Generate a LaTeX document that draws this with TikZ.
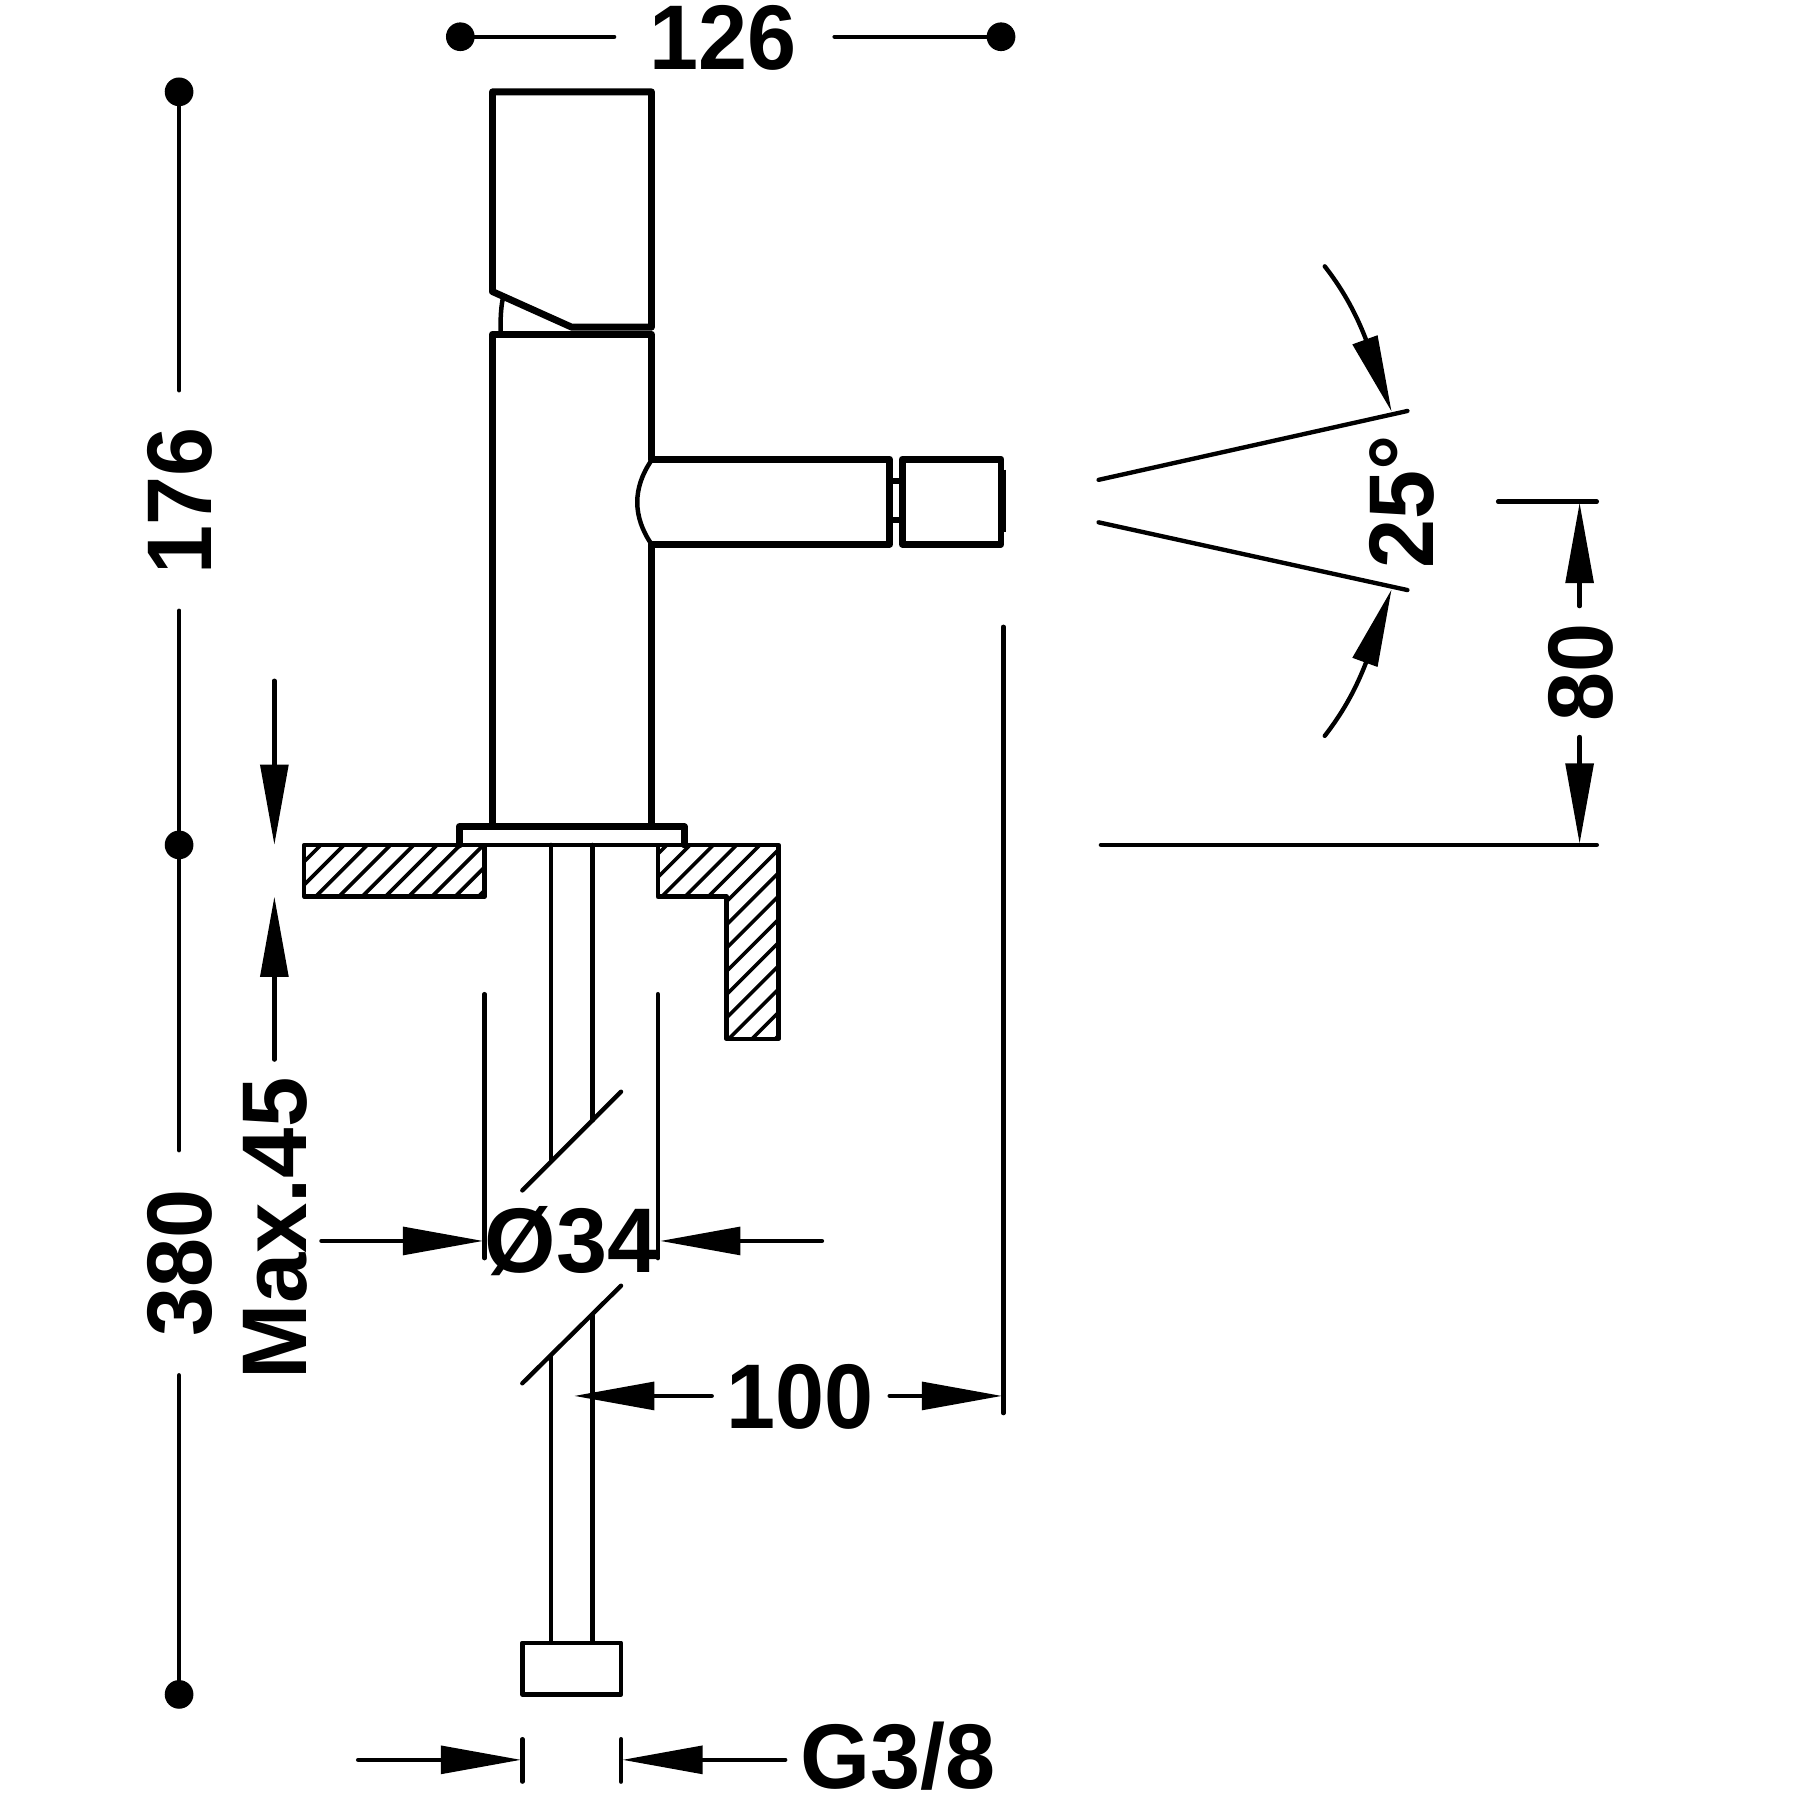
\documentclass[tikz,border=0pt]{standalone}
\usepackage{fontspec}
\setmainfont{Liberation Sans}
\usetikzlibrary{arrows.meta}
\newcommand{\lbl}[2][0.96]{\scalebox{#1}[1]{#2}}
\tikzset{
  bodyline/.style={line width=3pt,line join=round,line cap=round},
  outline/.style={line width=1.95pt,line join=round,line cap=round},
  thinline/.style={line width=1.9pt,line cap=round},
  hatchline/.style={line width=1.55pt},
  arr/.style={-{Triangle[length=35pt,width=12pt]},line width=1.9pt,line cap=round},
  dotmark/.style={circle,fill=black,inner sep=0pt,minimum size=12.5pt},
  lab/.style={font=\fontsize{40}{40}\selectfont\bfseries,inner sep=0pt},
  rlab/.style={lab,rotate=90},
  headfill/.style={fill=black,draw=none}
}
\begin{document}
\begin{tikzpicture}[x=0.5pt,y=-0.5pt]
\useasboundingbox (0,0) rectangle (1568,1568);
\fill[white] (0,0) rectangle (1568,1568);

% hatching
\begin{scope}
\clip (265,736) rectangle (422,781);
\foreach \k in {-3,...,8}{
  \pgfmathsetmacro{\c}{1056+20.25*\k}
  \draw[hatchline] (\c-700,700) -- (\c-800,800);
}
\end{scope}
\begin{scope}
\clip (573,736) -- (678,736) -- (678,905) -- (633,905) -- (633,781) -- (573,781) -- cycle;
\foreach \k in {-3,...,12}{
  \pgfmathsetmacro{\c}{1357.5+20.25*\k}
  \draw[hatchline] (\c-700,700) -- (\c-950,950);
}
\end{scope}
\draw[outline] (422,736) -- (265,736) -- (265,781) -- (422,781) -- cycle;
\draw[outline] (573,736) -- (678,736) -- (678,905) -- (633,905) -- (633,781) -- (573,781) -- cycle;

% mixer body
\draw[bodyline] (429,80) -- (567.5,80) -- (567.5,285) -- (498,285) -- (429,254) -- cycle;
\draw[outline] (438,260) .. controls (436,270) and (436,280) .. (436,290);
\draw[bodyline] (429,718) -- (429,291) -- (567.5,291) -- (567.5,400);
\draw[bodyline] (567.5,474) -- (567.5,718);
\draw[bodyline] (567.5,400) -- (775,400) -- (775,474) -- (567.5,474);
\draw[outline] (567.5,401) .. controls (551,425) and (551,450) .. (567.5,474);
\draw[bodyline] (786,400) -- (872,400) -- (872,474) -- (786,474) -- cycle;
\draw[bodyline] (775,419) -- (786,419);
\draw[bodyline] (775,453) -- (786,453);
\draw[line width=1pt] (875,409) -- (875,463);

% flange
\draw[bodyline,fill=white] (400,736) -- (400,720) -- (596,720) -- (596,736);
\draw[outline] (400,736) -- (596,736);

% pipe
\draw[thinline] (480,736) -- (480,1010);
\draw[thinline] (516,736) -- (516,976);
\draw[thinline] (455,1037) -- (541,951);
\draw[thinline] (455,1205) -- (541,1120);
\draw[thinline] (480,1182) -- (480,1431);
\draw[thinline] (516,1146) -- (516,1431);
\draw[outline] (455,1431) rectangle (541,1476);

% overall dimensions
\node[dotmark] (t1) at (401,32) {};
\node[dotmark] (t2) at (872,32) {};
\node[lab] (w126) at (630,33) {\lbl{126}};
\coordinate (t1e) at (535,32);
\coordinate (t2e) at (727,32);
\draw[thinline] (t1.center) -- (t1e);
\draw[thinline] (t2e) -- (t2.center);

\node[dotmark] (l1) at (156,80) {};
\node[dotmark] (l2) at (156,736) {};
\node[dotmark] (l3) at (156,1476) {};
\node[rlab] (h176) at (157,436) {\lbl{176}};
\node[rlab] (h380) at (157,1100) {\lbl{380}};
\coordinate (l1e) at (156,340);
\coordinate (l2a) at (156,532);
\coordinate (l2b) at (156,1002);
\coordinate (l3e) at (156,1198);
\draw[thinline] (l1.center) -- (l1e);
\draw[thinline] (l2a) -- (l2b);
\draw[thinline] (l3e) -- (l3.center);

% Max.45
\node[rlab] (max) at (240,1070) {\lbl[0.985]{Max.45}};
\coordinate (ma1) at (239,593);
\coordinate (ma2) at (239,736);
\coordinate (mb1) at (239,923);
\coordinate (mb2) at (239,781);
\draw[arr] (ma1) -- (ma2);
\draw[arr] (mb1) -- (mb2);

% diameter 34
\draw[thinline] (422,866) -- (422,1096);
\draw[thinline] (573,866) -- (573,1096);
\node[lab] (d34) at (498,1081) {Ø34};
\coordinate (da1) at (280,1081);
\coordinate (da2) at (421,1081);
\coordinate (db1) at (716,1081);
\coordinate (db2) at (575,1081);
\draw[arr] (da1) -- (da2);
\draw[arr] (db1) -- (db2);

% 100
\draw[thinline] (874,546) -- (874,1231);
\node[lab] (w100) at (697,1217) {\lbl{100}};
\coordinate (ca1) at (620,1216);
\coordinate (ca2) at (500,1216);
\coordinate (cb1) at (775,1216);
\coordinate (cb2) at (873,1216);
\draw[arr] (ca1) -- (ca2);
\draw[arr] (cb1) -- (cb2);

% G3/8
\draw[thinline] (455,1515) -- (455,1552);
\draw[thinline] (541,1515) -- (541,1552);
\node[lab] (g38) at (782,1530) {\lbl[0.98]{G3/8}};
\coordinate (ga1) at (312,1533);
\coordinate (ga2) at (454,1533);
\coordinate (gb1) at (684,1533);
\coordinate (gb2) at (542,1533);
\draw[arr] (ga1) -- (ga2);
\draw[arr] (gb1) -- (gb2);

% 80
\draw[thinline] (1305,437) -- (1391,437);
\draw[thinline] (959,736) -- (1391,736);
\node[rlab] (h80) at (1377,586) {\lbl{80}};
\coordinate (ea1) at (1376,528);
\coordinate (ea2) at (1376,438);
\coordinate (eb1) at (1376,642);
\coordinate (eb2) at (1376,735);
\draw[arr] (ea1) -- (ea2);
\draw[arr] (eb1) -- (eb2);

% 25 degrees
\draw[thinline] (957,418) -- (1226,358);
\draw[thinline] (957,455) -- (1226,514);
\node[rlab] (a25) at (1221,437) {\lbl{25°}};
\draw[thinline] (1154,232) .. controls (1168,250) and (1180,270) .. (1190,296);
\fill[headfill] (1178,300) -- (1200,292) -- (1212,358) -- cycle;
\draw[thinline] (1154,641) .. controls (1168,623) and (1180,603) .. (1190,577);
\fill[headfill] (1178,573) -- (1200,581) -- (1212,514) -- cycle;
\end{tikzpicture}
\end{document}
